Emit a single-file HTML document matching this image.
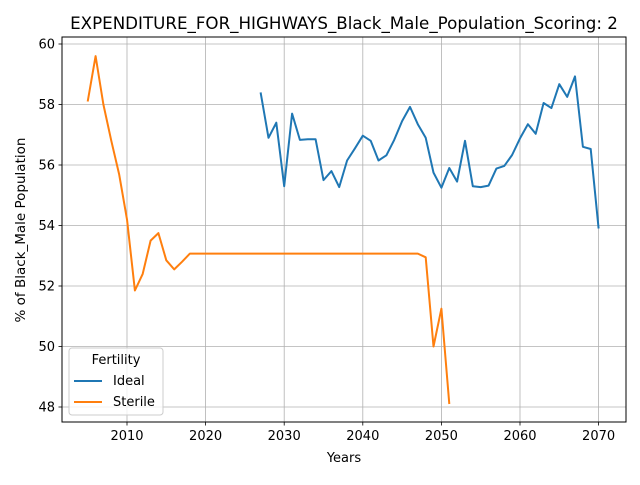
<!DOCTYPE html>
<html><head><meta charset="utf-8"><style>
body{margin:0;background:#fff;font-family:"Liberation Sans","DejaVu Sans",sans-serif}
svg text{font-family:"DejaVu Sans","Liberation Sans",sans-serif}
</style></head><body>
<svg id="chart" width="640" height="480" xmlns="http://www.w3.org/2000/svg">
<rect width="640" height="480" fill="#fff"/>
<g id="grid"></g>
<g id="series"></g>
<rect x="62" y="37" width="564" height="385" fill="none" stroke="#000" stroke-width="1"/>
<g id="ticks"></g>
<text x="344" y="29" font-size="16.7" text-anchor="middle">EXPENDITURE_FOR_HIGHWAYS_Black_Male_Population_Scoring: 2</text>
<text x="344" y="462" font-size="13" text-anchor="middle">Years</text>
<text transform="translate(25,230) rotate(-90)" font-size="13.5" text-anchor="middle">% of Black_Male Population</text>
<g>
<rect x="69" y="348" width="94" height="67" rx="3" fill="#fff" fill-opacity="0.8" stroke="#ccc"/>
<text x="116" y="364" font-size="13" text-anchor="middle">Fertility</text>
<g><line x1="74" y1="381" x2="102" y2="381" stroke="#1f77b4" stroke-width="2"/><text x="113" y="385" font-size="13">Ideal</text></g>
<g><line x1="74" y1="402" x2="102" y2="402" stroke="#ff7f0e" stroke-width="2"/><text x="113" y="406" font-size="13">Sterile</text></g>
</g>
</svg>
<script>
const xTicks=[2010,2020,2030,2040,2050,2060,2070];
const yTicks=[48,50,52,54,56,58,60];
const idealYears=[2027,2028,2029,2030,2031,2032,2033,2034,2035,2036,2037,2038,2039,2040,2041,2042,2043,2044,2045,2046,2047,2048,2049,2050,2051,2052,2053,2054,2055,2056,2057,2058,2059,2060,2061,2062,2063,2064,2065,2066,2067,2068,2069,2070];
const idealValues=[58.4,56.9,57.4,55.3,57.7,56.83,56.85,56.85,55.5,55.8,55.27,56.15,56.55,56.97,56.8,56.15,56.32,56.83,57.45,57.92,57.35,56.9,55.75,55.25,55.9,55.45,56.8,55.3,55.27,55.32,55.88,55.97,56.33,56.88,57.35,57.03,58.05,57.88,58.67,58.25,58.93,56.6,56.53,53.9];
const sterileYears=[2005,2006,2007,2008,2009,2010,2011,2012,2013,2014,2015,2016,2017,2018,2019,2020,2021,2022,2023,2024,2025,2026,2027,2028,2029,2030,2031,2032,2033,2034,2035,2036,2037,2038,2039,2040,2041,2042,2043,2044,2045,2046,2047,2048,2049,2050,2051];
const sterileValues=[58.1,59.6,58.0,56.8,55.7,54.2,51.85,52.4,53.5,53.75,52.85,52.55,52.8,53.07,53.07,53.07,53.07,53.07,53.07,53.07,53.07,53.07,53.07,53.07,53.07,53.07,53.07,53.07,53.07,53.07,53.07,53.07,53.07,53.07,53.07,53.07,53.07,53.07,53.07,53.07,53.07,53.07,53.07,52.95,50.0,51.25,48.1];
const NS="http://www.w3.org/2000/svg";
function xs(v){return 127+(v-2010)*7.86;}
function ys(v){return 44+(60-v)*30.25;}
function mk(tag,attrs,parent){const e=document.createElementNS(NS,tag);for(const k in attrs)e.setAttribute(k,attrs[k]);parent.appendChild(e);return e;}
const grid=document.getElementById('grid'),ticks=document.getElementById('ticks'),series=document.getElementById('series');
xTicks.forEach(t=>{const x=xs(t);
const g=mk('line',{x1:x,x2:x,y1:37,y2:422,stroke:'#b0b0b0','stroke-width':0.8},grid);


mk('line',{x1:x,x2:x,y1:422,y2:425.5,stroke:'#000','stroke-width':0.8},ticks);
const tx=mk('text',{x:x,y:440,'font-size':13,'text-anchor':'middle'},ticks);tx.textContent=t;

});
yTicks.forEach(t=>{const y=ys(t);
const g=mk('line',{x1:62,x2:626,y1:y,y2:y,stroke:'#b0b0b0','stroke-width':0.8},grid);


mk('line',{x1:58.5,x2:62,y1:y,y2:y,stroke:'#000','stroke-width':0.8},ticks);
const tx=mk('text',{x:55,y:y+4.5,'font-size':13,'text-anchor':'end'},ticks);tx.textContent=t;

});
function line(xsArr,vals,color,name){const d=xsArr.map((x,i)=>(i?'L':'M')+xs(x).toFixed(1)+' '+ys(vals[i]).toFixed(1)).join(' ');
const p=mk('path',{d:d,fill:'none',stroke:color,'stroke-width':2,'stroke-linejoin':'round'},series);

}
line(idealYears,idealValues,'#1f77b4','ideal-line');
line(sterileYears,sterileValues,'#ff7f0e','sterile-line');
</script>
</body></html>
